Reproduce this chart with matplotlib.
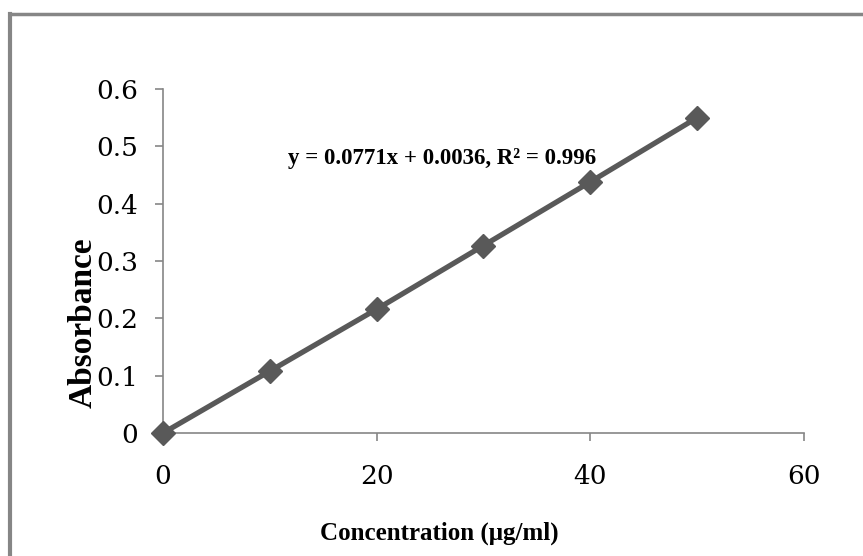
import matplotlib
matplotlib.use("Agg")
import matplotlib.pyplot as plt
from matplotlib.lines import Line2D

# calibration data
concentration = [0, 10, 20, 30, 40, 50]
absorbance = [0.0, 0.108, 0.216, 0.327, 0.438, 0.550]
x_ticks = [0, 20, 40, 60]
y_ticks = [0, 0.1, 0.2, 0.3, 0.4, 0.5, 0.6]
y_tick_labels = ["0", "0.1", "0.2", "0.3", "0.4", "0.5", "0.6"]
equation = "y = 0.0771x + 0.0036, R\u00b2 = 0.996"

axis_grey = "#868686"
series_grey = "#595959"

fig = plt.figure(figsize=(8.63, 5.56), dpi=100, facecolor="white")
ax = fig.add_axes([0.1889, 0.2212, 0.7427, 0.6187])

ax.plot(concentration, absorbance, color=series_grey, linewidth=3.8,
        marker="D", markersize=12, clip_on=False, zorder=3)

ax.set_xlim(0, 60)
ax.set_ylim(0, 0.6)
ax.set_xticks(x_ticks)
ax.set_yticks(y_ticks)
ax.set_yticklabels(y_tick_labels)

for side in ("top", "right"):
    ax.spines[side].set_visible(False)
for side in ("left", "bottom"):
    ax.spines[side].set_color(axis_grey)
    ax.spines[side].set_linewidth(1.2)

ax.tick_params(axis="both", colors=axis_grey, length=6, width=1.2,
               labelcolor="black", labelsize=19)
ax.tick_params(axis="x", pad=16)
ax.tick_params(axis="y", pad=12)
for lbl in ax.get_xticklabels() + ax.get_yticklabels():
    lbl.set_fontfamily("DejaVu Serif")

ax.text(26.1, 0.478, equation, ha="center", va="center",
        fontfamily="Liberation Serif", fontweight="bold", fontsize=16.5)

fig.text(0.5095, 0.041, "Concentration (\u03bcg/ml)", ha="center", va="center",
         fontfamily="Liberation Serif", fontweight="bold", fontsize=18)
fig.text(0.096, 0.42, "Absorbance", ha="center", va="center", rotation=90,
         fontfamily="Liberation Serif", fontweight="bold", fontsize=24)

# outer chart frame (top and left edges visible)
fig.add_artist(Line2D([0.0115, 1.0], [0.975, 0.975], transform=fig.transFigure,
                      color=axis_grey, linewidth=2.5))
fig.add_artist(Line2D([0.0115, 0.0115], [0.0, 0.975], transform=fig.transFigure,
                      color=axis_grey, linewidth=3))

fig.savefig("out.png", dpi=100)
